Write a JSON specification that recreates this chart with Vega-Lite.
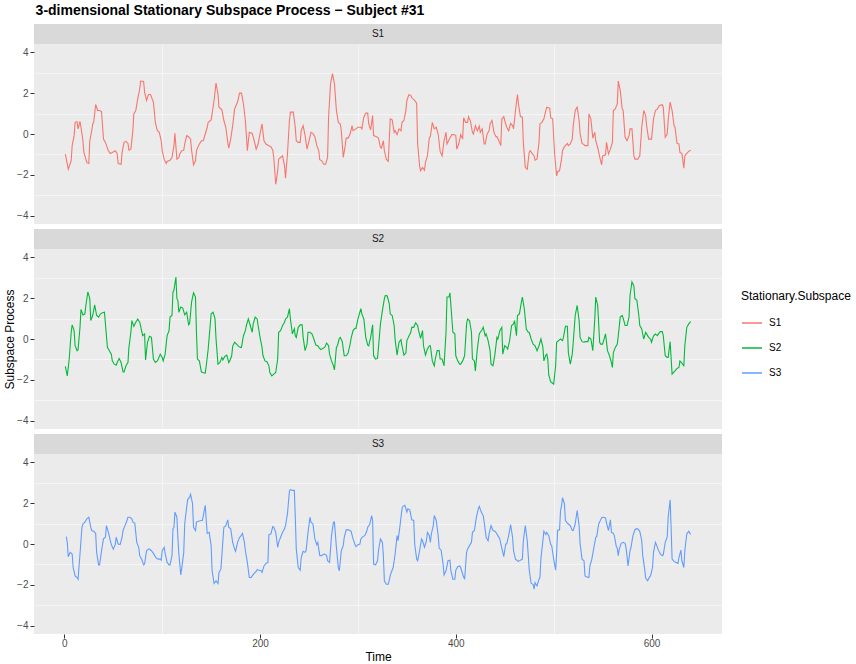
{
"$schema": "https://vega.github.io/schema/vega-lite/v6.json",
"padding": {"left": 3, "top": 4, "right": 0, "bottom": 0},
"title": {"text": "3-dimensional Stationary Subspace Process − Subject #31", "anchor": "start", "dx": 32, "fontSize": 14, "fontWeight": "bold", "color": "black", "offset": 6},
"config": {
 "font": "Liberation Sans",
 "view": {"stroke": null},
 "axis": {"labelColor": "#4D4D4D", "labelFontSize": 10, "tickColor": "#333333", "tickSize": 4, "domain": false, "gridColor": "white", "titleFontWeight": "normal", "titleFontSize": 12, "titleColor": "black", "labelPadding": 2},
 "legend": {"titleFontWeight": "normal", "titleFontSize": 12, "titleColor": "black", "labelFontSize": 10, "labelColor": "black"}
},
"datasets": {
 "strips": [{"s": "S1"}, {"s": "S2"}, {"s": "S3"}],
 "s1": [
{"t":1,"v":-0.98},{"t":4,"v":-1.72},{"t":7,"v":-1.3},{"t":8,"v":-0.57},{"t":10,"v":-0.08},{"t":11,"v":0.57},{"t":13,"v":0.6},{"t":14,"v":0.25},{"t":16,"v":0.62},{"t":17,"v":0.33},{"t":19,"v":-0.33},{"t":20,"v":-0.9},{"t":21,"v":-1.07},{"t":23,"v":-1.4},{"t":25,"v":-1.44},{"t":26,"v":-0.33},{"t":28,"v":0.16},{"t":29,"v":0.49},{"t":30,"v":0.57},{"t":32,"v":1.44},{"t":34,"v":1.15},{"t":36,"v":1.15},{"t":38,"v":1.1},{"t":40,"v":-0.25},{"t":42,"v":-0.41},{"t":44,"v":-0.69},{"t":45,"v":-0.82},{"t":47,"v":-0.95},{"t":49,"v":-0.9},{"t":52,"v":-0.82},{"t":54,"v":-0.95},{"t":55,"v":-1.44},{"t":58,"v":-1.48},{"t":59,"v":-0.9},{"t":61,"v":-0.41},{"t":63,"v":-0.36},{"t":65,"v":-0.46},{"t":66,"v":-0.79},{"t":68,"v":-0.74},{"t":70,"v":0.16},{"t":71,"v":0.98},{"t":73,"v":1.15},{"t":75,"v":1.72},{"t":77,"v":2.2},{"t":78,"v":2.59},{"t":81,"v":2.57},{"t":82,"v":2.05},{"t":84,"v":1.64},{"t":86,"v":1.93},{"t":88,"v":1.93},{"t":91,"v":1.56},{"t":93,"v":0.57},{"t":95,"v":0.16},{"t":97,"v":0.08},{"t":99,"v":-0.33},{"t":100,"v":-0.82},{"t":102,"v":-1.23},{"t":104,"v":-1.44},{"t":105,"v":-1.34},{"t":108,"v":-1.28},{"t":110,"v":-1.15},{"t":112,"v":-0.57},{"t":113,"v":0.03},{"t":115,"v":-1.23},{"t":117,"v":-1.15},{"t":118,"v":-0.98},{"t":120,"v":-0.82},{"t":122,"v":-0.79},{"t":123,"v":-0.49},{"t":125,"v":-0.08},{"t":127,"v":-0.13},{"t":129,"v":-0.25},{"t":130,"v":-0.79},{"t":132,"v":-1.51},{"t":134,"v":-1.31},{"t":135,"v":-0.82},{"t":137,"v":-0.57},{"t":140,"v":-0.33},{"t":142,"v":-0.33},{"t":144,"v":0},{"t":146,"v":0.33},{"t":147,"v":0.57},{"t":150,"v":0.69},{"t":151,"v":0.98},{"t":153,"v":1.64},{"t":155,"v":2.49},{"t":157,"v":1.97},{"t":158,"v":1.31},{"t":161,"v":1.18},{"t":163,"v":0.66},{"t":165,"v":0.33},{"t":167,"v":-0.41},{"t":168,"v":-0.69},{"t":170,"v":-0.25},{"t":172,"v":0.41},{"t":174,"v":1.23},{"t":175,"v":1.34},{"t":177,"v":1.56},{"t":179,"v":2.0},{"t":181,"v":2.0},{"t":183,"v":1.48},{"t":185,"v":0.66},{"t":187,"v":-0.82},{"t":189,"v":0.08},{"t":192,"v":0.03},{"t":194,"v":-0.33},{"t":196,"v":-0.74},{"t":198,"v":-0.49},{"t":200,"v":0.03},{"t":202,"v":0.49},{"t":204,"v":-0.33},{"t":206,"v":-0.49},{"t":209,"v":-0.57},{"t":211,"v":-0.62},{"t":213,"v":-0.79},{"t":214,"v":-1.15},{"t":216,"v":-2.46},{"t":218,"v":-1.8},{"t":219,"v":-1.23},{"t":221,"v":-1.15},{"t":223,"v":-1.07},{"t":225,"v":-1.56},{"t":226,"v":-2.16},{"t":228,"v":-0.98},{"t":230,"v":0.66},{"t":231,"v":1.07},{"t":234,"v":1.07},{"t":236,"v":0.3},{"t":237,"v":-0.33},{"t":239,"v":-0.41},{"t":241,"v":-0.41},{"t":242,"v":0.16},{"t":244,"v":0.41},{"t":246,"v":-0.08},{"t":248,"v":-0.74},{"t":250,"v":-0.33},{"t":252,"v":0.08},{"t":254,"v":0.03},{"t":256,"v":-0.13},{"t":258,"v":-0.57},{"t":260,"v":-0.82},{"t":261,"v":-1.26},{"t":263,"v":-1.31},{"t":265,"v":-1.48},{"t":267,"v":-1.48},{"t":269,"v":-1.15},{"t":270,"v":0.82},{"t":272,"v":2.46},{"t":274,"v":2.95},{"t":276,"v":2.46},{"t":277,"v":1.8},{"t":278,"v":1.15},{"t":280,"v":0.57},{"t":282,"v":0.49},{"t":283,"v":0.16},{"t":285,"v":-1.15},{"t":287,"v":-0.57},{"t":288,"v":-0.2},{"t":290,"v":-0.2},{"t":292,"v":0},{"t":294,"v":0.41},{"t":295,"v":0.16},{"t":298,"v":0.25},{"t":300,"v":0.33},{"t":303,"v":0.33},{"t":304,"v":0.25},{"t":306,"v":0.82},{"t":308,"v":1.02},{"t":310,"v":1.02},{"t":311,"v":0.49},{"t":313,"v":0.2},{"t":315,"v":0.9},{"t":316,"v":-0.08},{"t":319,"v":-0.13},{"t":321,"v":-0.2},{"t":323,"v":-0.66},{"t":324,"v":-0.69},{"t":326,"v":-0.33},{"t":327,"v":-0.82},{"t":329,"v":-1.23},{"t":331,"v":-1.34},{"t":333,"v":0.74},{"t":335,"v":0.69},{"t":337,"v":0.08},{"t":338,"v":0.16},{"t":340,"v":-0.03},{"t":342,"v":0.25},{"t":344,"v":0.16},{"t":345,"v":0.57},{"t":347,"v":0.66},{"t":349,"v":1.15},{"t":350,"v":1.64},{"t":352,"v":1.92},{"t":354,"v":1.89},{"t":355,"v":1.77},{"t":358,"v":1.64},{"t":360,"v":1.51},{"t":361,"v":-0.49},{"t":363,"v":-1.56},{"t":364,"v":-1.8},{"t":366,"v":-1.64},{"t":368,"v":-1.77},{"t":369,"v":-1.39},{"t":371,"v":-1.07},{"t":373,"v":-0.16},{"t":374,"v":-0.13},{"t":376,"v":0.57},{"t":378,"v":0.25},{"t":380,"v":0.33},{"t":382,"v":0},{"t":384,"v":-0.85},{"t":386,"v":-1.07},{"t":388,"v":-0.33},{"t":390,"v":0.08},{"t":391,"v":-0.49},{"t":394,"v":-0.2},{"t":396,"v":-0.03},{"t":398,"v":-0.03},{"t":400,"v":-0.08},{"t":401,"v":-0.74},{"t":403,"v":-0.49},{"t":405,"v":-0.03},{"t":407,"v":-0.25},{"t":408,"v":0.79},{"t":410,"v":0.57},{"t":412,"v":0.57},{"t":413,"v":0.85},{"t":415,"v":0.62},{"t":417,"v":0.08},{"t":418,"v":0},{"t":420,"v":0.41},{"t":422,"v":0.16},{"t":424,"v":0.39},{"t":425,"v":0.08},{"t":427,"v":0.25},{"t":429,"v":-0.49},{"t":430,"v":-0.49},{"t":432,"v":0},{"t":434,"v":0.16},{"t":435,"v":0.49},{"t":437,"v":0.66},{"t":439,"v":0.08},{"t":441,"v":-0.13},{"t":442,"v":-0.13},{"t":444,"v":-0.33},{"t":446,"v":-0.57},{"t":447,"v":0.74},{"t":449,"v":0.85},{"t":451,"v":0.49},{"t":452,"v":0.33},{"t":454,"v":0.16},{"t":456,"v":0.52},{"t":458,"v":0.41},{"t":459,"v":0.25},{"t":461,"v":1.15},{"t":463,"v":1.93},{"t":464,"v":1.48},{"t":466,"v":0.85},{"t":468,"v":0.82},{"t":469,"v":-0.41},{"t":471,"v":-1.64},{"t":473,"v":-1.72},{"t":475,"v":-0.9},{"t":476,"v":-0.82},{"t":478,"v":-0.95},{"t":480,"v":-1.07},{"t":481,"v":-1.28},{"t":483,"v":-1.23},{"t":485,"v":-0.41},{"t":486,"v":0.49},{"t":488,"v":0.57},{"t":490,"v":0.74},{"t":492,"v":1.15},{"t":493,"v":1.31},{"t":496,"v":1.26},{"t":497,"v":0.79},{"t":499,"v":0.74},{"t":501,"v":-0.98},{"t":503,"v":-2.05},{"t":504,"v":-1.84},{"t":506,"v":-1.8},{"t":508,"v":-1.23},{"t":509,"v":-0.82},{"t":511,"v":-0.62},{"t":514,"v":-0.46},{"t":515,"v":-0.57},{"t":517,"v":-0.49},{"t":519,"v":-0.25},{"t":520,"v":0.41},{"t":522,"v":1.15},{"t":524,"v":1.31},{"t":526,"v":0.66},{"t":527,"v":0.03},{"t":529,"v":-0.46},{"t":531,"v":-0.52},{"t":532,"v":-0.57},{"t":535,"v":-0.57},{"t":536,"v":0.98},{"t":538,"v":0.74},{"t":540,"v":-0.2},{"t":542,"v":0.08},{"t":543,"v":-0.33},{"t":545,"v":-0.66},{"t":547,"v":-1.11},{"t":549,"v":-1.51},{"t":550,"v":-1.07},{"t":553,"v":-1.02},{"t":554,"v":-0.41},{"t":556,"v":-0.98},{"t":558,"v":-0.74},{"t":560,"v":-0.41},{"t":561,"v":1.15},{"t":563,"v":1.23},{"t":565,"v":1.48},{"t":566,"v":2.59},{"t":568,"v":2.13},{"t":570,"v":1.23},{"t":571,"v":1.15},{"t":573,"v":-0.16},{"t":575,"v":-0.33},{"t":577,"v":-0.08},{"t":578,"v":0.25},{"t":580,"v":0.25},{"t":582,"v":-1.07},{"t":583,"v":-1.23},{"t":586,"v":-1.23},{"t":588,"v":-1.07},{"t":590,"v":0.33},{"t":592,"v":1.15},{"t":594,"v":0.9},{"t":595,"v":0.41},{"t":597,"v":-0.25},{"t":600,"v":-0.25},{"t":602,"v":0.74},{"t":604,"v":1.15},{"t":606,"v":1.23},{"t":608,"v":1.39},{"t":611,"v":1.43},{"t":612,"v":1.31},{"t":614,"v":-0.16},{"t":616,"v":0},{"t":617,"v":0.66},{"t":619,"v":1.56},{"t":621,"v":1.15},{"t":623,"v":0.41},{"t":624,"v":0.33},{"t":626,"v":-0.46},{"t":628,"v":-0.49},{"t":629,"v":-0.9},{"t":631,"v":-0.95},{"t":633,"v":-1.67},{"t":634,"v":-1.07},{"t":636,"v":-0.95},{"t":638,"v":-0.85},{"t":640,"v":-0.79}
 ],
 "s2": [
{"t":1,"v":-1.34},{"t":3,"v":-1.8},{"t":5,"v":-0.98},{"t":7,"v":0.33},{"t":8,"v":0.69},{"t":10,"v":0.41},{"t":11,"v":-0.33},{"t":13,"v":-0.57},{"t":14,"v":-0.52},{"t":16,"v":0.57},{"t":17,"v":1.44},{"t":19,"v":1.18},{"t":21,"v":1.23},{"t":22,"v":1.64},{"t":24,"v":2.3},{"t":26,"v":1.97},{"t":27,"v":0.9},{"t":29,"v":1.15},{"t":31,"v":1.67},{"t":33,"v":1.15},{"t":35,"v":1.07},{"t":37,"v":1.23},{"t":39,"v":1.28},{"t":41,"v":1.31},{"t":43,"v":0.16},{"t":44,"v":-0.41},{"t":46,"v":-0.57},{"t":48,"v":-0.74},{"t":49,"v":-1.07},{"t":51,"v":-1.23},{"t":53,"v":-1.28},{"t":54,"v":-1.15},{"t":56,"v":-0.95},{"t":58,"v":-1.15},{"t":60,"v":-1.61},{"t":61,"v":-1.61},{"t":63,"v":-1.31},{"t":65,"v":-1.15},{"t":66,"v":-0.41},{"t":68,"v":0.33},{"t":69,"v":0.9},{"t":71,"v":0.62},{"t":73,"v":0.82},{"t":75,"v":0.98},{"t":77,"v":0.82},{"t":78,"v":0.62},{"t":80,"v":0.16},{"t":82,"v":0.25},{"t":83,"v":-1.02},{"t":85,"v":-0.16},{"t":87,"v":0.13},{"t":89,"v":0.08},{"t":91,"v":-0.98},{"t":93,"v":-1.15},{"t":95,"v":-1.07},{"t":96,"v":-0.98},{"t":98,"v":-0.74},{"t":100,"v":-0.9},{"t":101,"v":-1.07},{"t":103,"v":-0.74},{"t":105,"v":0.16},{"t":107,"v":0.41},{"t":108,"v":1.07},{"t":110,"v":1.15},{"t":111,"v":2.3},{"t":112,"v":2.38},{"t":114,"v":3.03},{"t":115,"v":1.97},{"t":116,"v":1.89},{"t":117,"v":1.31},{"t":119,"v":1.56},{"t":121,"v":1.51},{"t":123,"v":1.18},{"t":125,"v":1.31},{"t":127,"v":0.69},{"t":128,"v":0.74},{"t":130,"v":1.8},{"t":132,"v":2.26},{"t":134,"v":2.05},{"t":135,"v":0.33},{"t":136,"v":-0.98},{"t":138,"v":-1.07},{"t":140,"v":-1.61},{"t":141,"v":-1.64},{"t":144,"v":-1.67},{"t":145,"v":-1.31},{"t":147,"v":-0.49},{"t":149,"v":0.66},{"t":150,"v":1.23},{"t":152,"v":1.31},{"t":154,"v":0.98},{"t":155,"v":0},{"t":157,"v":-1.23},{"t":159,"v":-1.15},{"t":161,"v":-0.9},{"t":162,"v":-1.02},{"t":164,"v":-0.85},{"t":166,"v":-0.79},{"t":168,"v":-1.15},{"t":169,"v":-1.07},{"t":171,"v":-0.82},{"t":172,"v":-0.36},{"t":174,"v":-0.16},{"t":176,"v":-0.25},{"t":178,"v":-0.36},{"t":180,"v":-0.41},{"t":181,"v":-0.41},{"t":183,"v":0.16},{"t":185,"v":0.41},{"t":186,"v":0.66},{"t":188,"v":0.98},{"t":190,"v":0.66},{"t":192,"v":0.33},{"t":193,"v":0.74},{"t":195,"v":1.07},{"t":197,"v":0.98},{"t":198,"v":0.66},{"t":200,"v":0.08},{"t":202,"v":-0.41},{"t":203,"v":-0.82},{"t":205,"v":-1.07},{"t":207,"v":-1.11},{"t":209,"v":-1.31},{"t":210,"v":-1.64},{"t":212,"v":-1.8},{"t":214,"v":-1.72},{"t":216,"v":-1.64},{"t":218,"v":-0.98},{"t":219,"v":0.33},{"t":221,"v":0.41},{"t":223,"v":0.66},{"t":225,"v":0.82},{"t":226,"v":0.98},{"t":228,"v":1.07},{"t":230,"v":1.48},{"t":231,"v":0.98},{"t":233,"v":0.25},{"t":235,"v":0.5},{"t":236,"v":0.16},{"t":237,"v":0.08},{"t":239,"v":0.57},{"t":241,"v":0.69},{"t":243,"v":0.69},{"t":244,"v":0.08},{"t":246,"v":-0.57},{"t":248,"v":-0.25},{"t":249,"v":0.33},{"t":251,"v":0.33},{"t":253,"v":0.25},{"t":255,"v":0},{"t":257,"v":-0.3},{"t":259,"v":-0.33},{"t":260,"v":-0.41},{"t":262,"v":-0.52},{"t":264,"v":-0.46},{"t":266,"v":-0.41},{"t":268,"v":-0.2},{"t":270,"v":-0.33},{"t":271,"v":-0.74},{"t":273,"v":-1.07},{"t":275,"v":-1.31},{"t":276,"v":-1.51},{"t":278,"v":-0.41},{"t":279,"v":-0.33},{"t":281,"v":0.03},{"t":282,"v":0.08},{"t":284,"v":-0.13},{"t":286,"v":-0.82},{"t":288,"v":-0.82},{"t":290,"v":-0.69},{"t":292,"v":-0.25},{"t":293,"v":0.03},{"t":295,"v":0.41},{"t":297,"v":0.52},{"t":298,"v":0.52},{"t":300,"v":0.98},{"t":303,"v":1.48},{"t":304,"v":1.23},{"t":306,"v":0.98},{"t":308,"v":0.08},{"t":310,"v":-0.3},{"t":311,"v":-0.33},{"t":313,"v":0.08},{"t":315,"v":0.69},{"t":316,"v":-0.82},{"t":318,"v":-0.98},{"t":320,"v":-0.95},{"t":321,"v":-0.41},{"t":323,"v":0.74},{"t":325,"v":1.39},{"t":327,"v":1.97},{"t":328,"v":2.13},{"t":330,"v":2.1},{"t":332,"v":1.72},{"t":333,"v":1.23},{"t":335,"v":1.15},{"t":337,"v":0.66},{"t":338,"v":-0.03},{"t":340,"v":-0.79},{"t":342,"v":-0.16},{"t":344,"v":-0.03},{"t":345,"v":-0.33},{"t":347,"v":-0.79},{"t":349,"v":-0.69},{"t":350,"v":-0.08},{"t":352,"v":0.13},{"t":354,"v":0.33},{"t":355,"v":0.57},{"t":357,"v":0.57},{"t":359,"v":0.79},{"t":361,"v":0.66},{"t":362,"v":0.41},{"t":364,"v":0.03},{"t":366,"v":0.41},{"t":367,"v":-0.33},{"t":369,"v":-0.79},{"t":371,"v":-0.49},{"t":373,"v":-0.33},{"t":374,"v":-0.33},{"t":376,"v":-1.07},{"t":378,"v":-1.31},{"t":379,"v":-0.98},{"t":381,"v":-0.57},{"t":383,"v":-0.57},{"t":384,"v":-0.98},{"t":386,"v":-0.98},{"t":388,"v":-1.31},{"t":390,"v":0.33},{"t":391,"v":2.05},{"t":393,"v":2.05},{"t":394,"v":2.26},{"t":395,"v":1.64},{"t":397,"v":0.33},{"t":399,"v":0.25},{"t":400,"v":-0.82},{"t":402,"v":-1.07},{"t":404,"v":-1.23},{"t":405,"v":-1.23},{"t":407,"v":-1.07},{"t":409,"v":-0.82},{"t":411,"v":0.74},{"t":412,"v":0.98},{"t":414,"v":0.9},{"t":416,"v":0.33},{"t":417,"v":-0.98},{"t":419,"v":-1.07},{"t":420,"v":-1.56},{"t":422,"v":-0.49},{"t":424,"v":0.25},{"t":425,"v":0.33},{"t":427,"v":0.46},{"t":428,"v":0.57},{"t":430,"v":0.16},{"t":431,"v":0.25},{"t":433,"v":-0.08},{"t":435,"v":-0.57},{"t":436,"v":-1.23},{"t":438,"v":-1.31},{"t":440,"v":-0.74},{"t":442,"v":0.08},{"t":443,"v":0},{"t":445,"v":0.41},{"t":447,"v":0.57},{"t":448,"v":-0.74},{"t":450,"v":-0.33},{"t":452,"v":-0.41},{"t":453,"v":-0.49},{"t":455,"v":-0.08},{"t":457,"v":0.66},{"t":459,"v":0.74},{"t":460,"v":0.9},{"t":462,"v":0.16},{"t":463,"v":1.15},{"t":465,"v":1.23},{"t":467,"v":1.8},{"t":468,"v":2.05},{"t":470,"v":1.48},{"t":472,"v":0.49},{"t":474,"v":0.33},{"t":475,"v":0.33},{"t":477,"v":0},{"t":479,"v":-0.25},{"t":481,"v":-0.33},{"t":483,"v":-0.57},{"t":485,"v":-0.33},{"t":486,"v":-0.16},{"t":487,"v":0},{"t":489,"v":-0.41},{"t":490,"v":-1.07},{"t":492,"v":-0.79},{"t":493,"v":-0.74},{"t":494,"v":-0.98},{"t":495,"v":-1.77},{"t":497,"v":-2.1},{"t":498,"v":-2.13},{"t":500,"v":-2.21},{"t":502,"v":-1.31},{"t":503,"v":-0.16},{"t":505,"v":-0.08},{"t":507,"v":0},{"t":509,"v":-0.08},{"t":510,"v":0.08},{"t":512,"v":0.62},{"t":514,"v":0.62},{"t":515,"v":-0.66},{"t":517,"v":-1.23},{"t":519,"v":-0.74},{"t":520,"v":-0.16},{"t":522,"v":1.15},{"t":524,"v":1.64},{"t":526,"v":0.9},{"t":527,"v":0.08},{"t":529,"v":-0.13},{"t":531,"v":-0.16},{"t":532,"v":-0.13},{"t":535,"v":-0.13},{"t":536,"v":0.08},{"t":538,"v":0},{"t":540,"v":-0.57},{"t":542,"v":0.98},{"t":543,"v":2.05},{"t":545,"v":1.64},{"t":547,"v":-0.16},{"t":548,"v":-0.25},{"t":550,"v":-0.25},{"t":552,"v":0.08},{"t":553,"v":0.25},{"t":555,"v":-0.57},{"t":557,"v":-0.82},{"t":559,"v":-1.15},{"t":560,"v":-1.39},{"t":561,"v":-0.66},{"t":563,"v":-0.41},{"t":565,"v":-0.25},{"t":566,"v":0.16},{"t":568,"v":1.07},{"t":570,"v":1.15},{"t":571,"v":1.02},{"t":573,"v":0.66},{"t":575,"v":0.66},{"t":577,"v":1.07},{"t":578,"v":2.13},{"t":580,"v":2.79},{"t":582,"v":2.59},{"t":583,"v":1.97},{"t":585,"v":1.89},{"t":587,"v":1.15},{"t":588,"v":0.66},{"t":590,"v":0.49},{"t":592,"v":0},{"t":594,"v":0.33},{"t":595,"v":0.25},{"t":597,"v":0.08},{"t":599,"v":0},{"t":600,"v":-0.16},{"t":602,"v":0.16},{"t":604,"v":0.25},{"t":606,"v":0.16},{"t":607,"v":0.25},{"t":609,"v":0.36},{"t":611,"v":0.36},{"t":612,"v":0.16},{"t":614,"v":-0.82},{"t":616,"v":-0.9},{"t":617,"v":-0.9},{"t":619,"v":-0.13},{"t":621,"v":-1.72},{"t":623,"v":-1.61},{"t":624,"v":-1.56},{"t":626,"v":-1.44},{"t":628,"v":-1.39},{"t":629,"v":-1.07},{"t":631,"v":-1.18},{"t":633,"v":-1.31},{"t":634,"v":-0.33},{"t":636,"v":0.57},{"t":638,"v":0.74},{"t":640,"v":0.85}
 ],
 "s3": [
{"t":2,"v":0.36},{"t":3,"v":0.08},{"t":4,"v":-0.62},{"t":6,"v":-0.41},{"t":8,"v":-0.49},{"t":9,"v":-1.15},{"t":11,"v":-1.56},{"t":13,"v":-1.64},{"t":14,"v":-1.72},{"t":16,"v":-0.49},{"t":18,"v":0.82},{"t":19,"v":0.98},{"t":21,"v":1.07},{"t":23,"v":1.23},{"t":25,"v":1.31},{"t":27,"v":0.82},{"t":28,"v":0.66},{"t":30,"v":0.62},{"t":32,"v":0.52},{"t":33,"v":-0.41},{"t":35,"v":-1.02},{"t":36,"v":-1.02},{"t":38,"v":-0.33},{"t":40,"v":0.25},{"t":42,"v":0.33},{"t":43,"v":0.9},{"t":45,"v":0.57},{"t":47,"v":0.16},{"t":48,"v":-0.03},{"t":50,"v":-0.25},{"t":52,"v":-0.03},{"t":53,"v":0.33},{"t":55,"v":0},{"t":57,"v":-0.03},{"t":59,"v":0.33},{"t":60,"v":0.66},{"t":62,"v":0.9},{"t":64,"v":1.15},{"t":65,"v":1.31},{"t":67,"v":1.31},{"t":69,"v":1.23},{"t":70,"v":1.07},{"t":72,"v":1.02},{"t":74,"v":0.08},{"t":76,"v":-0.16},{"t":77,"v":-0.57},{"t":79,"v":-0.74},{"t":81,"v":-1.02},{"t":82,"v":-0.98},{"t":84,"v":-0.33},{"t":86,"v":-0.25},{"t":87,"v":-0.25},{"t":89,"v":-0.33},{"t":91,"v":-0.46},{"t":93,"v":-0.62},{"t":94,"v":-0.69},{"t":96,"v":-0.74},{"t":98,"v":-0.74},{"t":99,"v":-0.79},{"t":100,"v":-0.33},{"t":102,"v":-0.16},{"t":103,"v":-0.46},{"t":105,"v":-0.9},{"t":107,"v":-1.02},{"t":108,"v":-1.02},{"t":110,"v":-0.57},{"t":111,"v":0.74},{"t":112,"v":0.82},{"t":113,"v":1.56},{"t":115,"v":1.31},{"t":116,"v":0.33},{"t":117,"v":-0.49},{"t":119,"v":-1.51},{"t":120,"v":-1.18},{"t":122,"v":-0.41},{"t":123,"v":0.98},{"t":125,"v":1.8},{"t":126,"v":2.16},{"t":128,"v":2.3},{"t":129,"v":2.43},{"t":131,"v":1.97},{"t":132,"v":0.82},{"t":134,"v":0.66},{"t":135,"v":1.07},{"t":137,"v":1.11},{"t":140,"v":1.15},{"t":141,"v":1.15},{"t":142,"v":1.39},{"t":144,"v":1.89},{"t":145,"v":1.15},{"t":146,"v":0.52},{"t":148,"v":0.57},{"t":150,"v":-0.08},{"t":151,"v":-1.31},{"t":153,"v":-1.93},{"t":155,"v":-1.8},{"t":157,"v":-1.93},{"t":158,"v":-1.39},{"t":160,"v":-1.23},{"t":162,"v":0.16},{"t":163,"v":0.82},{"t":165,"v":0.9},{"t":167,"v":1.18},{"t":168,"v":0.82},{"t":170,"v":0.74},{"t":172,"v":0.08},{"t":174,"v":-0.25},{"t":175,"v":-0.36},{"t":177,"v":0.08},{"t":179,"v":0.33},{"t":180,"v":0.36},{"t":182,"v":0.52},{"t":184,"v":0.08},{"t":185,"v":-0.33},{"t":187,"v":-0.9},{"t":189,"v":-1.64},{"t":191,"v":-1.64},{"t":192,"v":-1.56},{"t":194,"v":-1.44},{"t":196,"v":-1.34},{"t":197,"v":-1.25},{"t":199,"v":-1.28},{"t":201,"v":-1.31},{"t":202,"v":-1.39},{"t":204,"v":-1.07},{"t":206,"v":-0.95},{"t":208,"v":-0.9},{"t":209,"v":0.46},{"t":211,"v":0.49},{"t":213,"v":0.85},{"t":214,"v":0.82},{"t":216,"v":0.57},{"t":218,"v":-0.16},{"t":219,"v":0.08},{"t":221,"v":0.33},{"t":223,"v":0.57},{"t":225,"v":0.74},{"t":226,"v":0.9},{"t":228,"v":1.48},{"t":230,"v":2.59},{"t":231,"v":2.66},{"t":233,"v":2.62},{"t":235,"v":2.62},{"t":236,"v":1.31},{"t":237,"v":-0.25},{"t":239,"v":-1.15},{"t":241,"v":-1.28},{"t":242,"v":-0.66},{"t":244,"v":-0.36},{"t":246,"v":-0.41},{"t":247,"v":-0.33},{"t":249,"v":0.57},{"t":251,"v":1.31},{"t":252,"v":1.07},{"t":254,"v":0.98},{"t":256,"v":0.25},{"t":258,"v":-0.03},{"t":259,"v":0.08},{"t":261,"v":-0.57},{"t":263,"v":-0.57},{"t":264,"v":-0.52},{"t":266,"v":-0.49},{"t":268,"v":-0.57},{"t":269,"v":-0.82},{"t":271,"v":-0.9},{"t":273,"v":0.41},{"t":275,"v":1.07},{"t":276,"v":1.07},{"t":278,"v":-0.16},{"t":280,"v":-1.18},{"t":281,"v":-1.31},{"t":283,"v":-0.33},{"t":285,"v":-0.08},{"t":286,"v":0.33},{"t":288,"v":0.69},{"t":290,"v":0.69},{"t":292,"v":0.66},{"t":293,"v":0.62},{"t":295,"v":0.25},{"t":297,"v":-0.03},{"t":298,"v":-0.13},{"t":300,"v":-0.03},{"t":302,"v":0},{"t":303,"v":0.25},{"t":305,"v":0.36},{"t":307,"v":0.41},{"t":309,"v":0.62},{"t":310,"v":0.82},{"t":312,"v":0.95},{"t":314,"v":1.39},{"t":315,"v":1.15},{"t":316,"v":-0.98},{"t":318,"v":-1.02},{"t":320,"v":-0.82},{"t":321,"v":-0.33},{"t":323,"v":0.25},{"t":325,"v":0.08},{"t":326,"v":-0.57},{"t":327,"v":-1.8},{"t":329,"v":-1.97},{"t":331,"v":-1.97},{"t":333,"v":-1.56},{"t":334,"v":-1.39},{"t":336,"v":-1.15},{"t":338,"v":-0.49},{"t":340,"v":0.41},{"t":341,"v":0.16},{"t":343,"v":0.9},{"t":345,"v":1.72},{"t":346,"v":1.84},{"t":348,"v":1.89},{"t":350,"v":1.56},{"t":351,"v":1.72},{"t":353,"v":1.67},{"t":355,"v":1.18},{"t":357,"v":1.15},{"t":358,"v":0},{"t":360,"v":-0.74},{"t":361,"v":-0.82},{"t":363,"v":-0.33},{"t":365,"v":0.25},{"t":366,"v":0.16},{"t":368,"v":-0.16},{"t":370,"v":0.16},{"t":371,"v":0.57},{"t":373,"v":0.41},{"t":374,"v":0.08},{"t":375,"v":0.49},{"t":377,"v":0.9},{"t":378,"v":1.39},{"t":380,"v":1.15},{"t":382,"v":0.41},{"t":383,"v":-0.2},{"t":385,"v":-0.3},{"t":387,"v":-0.98},{"t":388,"v":-1.51},{"t":390,"v":-1.31},{"t":392,"v":-0.82},{"t":394,"v":-0.79},{"t":395,"v":-1.31},{"t":397,"v":-1.72},{"t":399,"v":-1.72},{"t":400,"v":-1.28},{"t":402,"v":-1.11},{"t":404,"v":-1.07},{"t":405,"v":-1.15},{"t":407,"v":-1.48},{"t":409,"v":-1.72},{"t":411,"v":-0.41},{"t":412,"v":-0.25},{"t":414,"v":-0.08},{"t":416,"v":0.08},{"t":417,"v":0.57},{"t":419,"v":0.66},{"t":421,"v":1.31},{"t":423,"v":1.72},{"t":424,"v":1.84},{"t":426,"v":1.56},{"t":428,"v":1.39},{"t":429,"v":1.07},{"t":431,"v":0.33},{"t":433,"v":0.16},{"t":434,"v":0.49},{"t":436,"v":0.9},{"t":438,"v":0.66},{"t":440,"v":0.62},{"t":441,"v":0.57},{"t":443,"v":0.41},{"t":445,"v":0.25},{"t":446,"v":0},{"t":448,"v":-0.41},{"t":449,"v":-0.62},{"t":451,"v":0},{"t":452,"v":0},{"t":454,"v":0.41},{"t":456,"v":0.95},{"t":458,"v":0.33},{"t":459,"v":-0.33},{"t":461,"v":-0.74},{"t":463,"v":-0.82},{"t":464,"v":-0.85},{"t":466,"v":-0.79},{"t":468,"v":-0.74},{"t":469,"v":0.16},{"t":471,"v":0.9},{"t":473,"v":0.16},{"t":475,"v":-1.25},{"t":476,"v":-1.6},{"t":477,"v":-1.93},{"t":479,"v":-1.97},{"t":480,"v":-2.21},{"t":481,"v":-1.89},{"t":483,"v":-2.05},{"t":485,"v":-1.72},{"t":486,"v":-1.64},{"t":487,"v":-0.69},{"t":489,"v":0.16},{"t":490,"v":0.62},{"t":492,"v":0.46},{"t":493,"v":0.57},{"t":495,"v":0.41},{"t":497,"v":-0.03},{"t":498,"v":-0.08},{"t":500,"v":-0.74},{"t":502,"v":-1.28},{"t":503,"v":-0.49},{"t":504,"v":0.66},{"t":506,"v":0.69},{"t":507,"v":1.64},{"t":508,"v":1.84},{"t":509,"v":2.26},{"t":511,"v":1.97},{"t":512,"v":1.15},{"t":514,"v":1.02},{"t":515,"v":0.98},{"t":517,"v":0.9},{"t":519,"v":0.66},{"t":520,"v":0.66},{"t":522,"v":0.98},{"t":524,"v":1.64},{"t":526,"v":0.9},{"t":527,"v":0.03},{"t":529,"v":-0.74},{"t":531,"v":-0.82},{"t":532,"v":-1.56},{"t":534,"v":-1.61},{"t":536,"v":-1.64},{"t":537,"v":-1.07},{"t":539,"v":-0.74},{"t":541,"v":-0.2},{"t":543,"v":0.33},{"t":544,"v":0.36},{"t":546,"v":0.98},{"t":548,"v":1.18},{"t":549,"v":1.28},{"t":551,"v":1.31},{"t":553,"v":1.28},{"t":554,"v":1.02},{"t":556,"v":0.66},{"t":558,"v":1.18},{"t":559,"v":0.57},{"t":561,"v":0.52},{"t":562,"v":0.41},{"t":564,"v":-0.13},{"t":565,"v":-0.2},{"t":566,"v":-0.57},{"t":567,"v":-0.25},{"t":569,"v":0.03},{"t":571,"v":0.08},{"t":573,"v":0.03},{"t":574,"v":-0.2},{"t":576,"v":-1.07},{"t":578,"v":-0.33},{"t":579,"v":-0.16},{"t":581,"v":0.41},{"t":583,"v":0.69},{"t":584,"v":0.74},{"t":586,"v":0.74},{"t":588,"v":0.62},{"t":590,"v":0.16},{"t":591,"v":-0.57},{"t":593,"v":-1.23},{"t":594,"v":-1.67},{"t":596,"v":-1.8},{"t":598,"v":-1.61},{"t":599,"v":-1.56},{"t":601,"v":-1.15},{"t":602,"v":-0.41},{"t":604,"v":0.08},{"t":605,"v":-0.03},{"t":607,"v":-0.3},{"t":609,"v":-0.49},{"t":611,"v":-0.57},{"t":612,"v":-0.52},{"t":614,"v":0.08},{"t":616,"v":0.33},{"t":617,"v":1.31},{"t":619,"v":2.16},{"t":620,"v":0.82},{"t":621,"v":-0.74},{"t":623,"v":-0.85},{"t":625,"v":-0.9},{"t":627,"v":-0.95},{"t":628,"v":-0.66},{"t":630,"v":-0.3},{"t":631,"v":-0.82},{"t":633,"v":-1.15},{"t":634,"v":-0.33},{"t":636,"v":0.49},{"t":638,"v":0.62},{"t":640,"v":0.46}
 ]
},
"spacing": 5,
"vconcat": [
 {"spacing": 0, "vconcat": [
  {"data": {"name": "strips"}, "transform": [{"filter": "datum.s === 'S1'"}], "width": 688, "height": 20, "view": {"fill": "#D9D9D9", "stroke": null},
   "mark": {"type": "text", "fontSize": 10, "color": "#1A1A1A", "baseline": "middle", "align": "center"}, "encoding": {"text": {"field": "s"}}},
  {"data": {"name": "s1"}, "width": 688, "height": 180, "view": {"fill": "#EBEBEB", "stroke": null},
   "layer": [
    {"mark": {"type": "line", "strokeOpacity": 0}, "encoding": {
      "x": {"field": "t", "type": "quantitative", "scale": {"domain": [-31, 672], "nice": false, "zero": false}, "axis": {"orient": "top", "values": [100, 300, 500], "gridWidth": 0.5, "labels": false, "ticks": false, "title": null}},
      "y": {"field": "v", "type": "quantitative", "scale": {"domain": [-4.4, 4.4], "nice": false, "zero": false}, "axis": {"orient": "right", "values": [-3, -1, 1, 3], "gridWidth": 0.5, "labels": false, "ticks": false, "title": null}}}},
    {"mark": {"type": "line", "strokeWidth": 1.1}, "encoding": {
      "x": {"field": "t", "type": "quantitative", "scale": {"domain": [-31, 672], "nice": false, "zero": false}, "axis": {"values": [0, 200, 400, 600], "gridWidth": 1.1, "labels": false, "ticks": false, "title": null}},
      "y": {"field": "v", "type": "quantitative", "scale": {"domain": [-4.4, 4.4], "nice": false, "zero": false}, "axis": {"values": [-4, -2, 0, 2, 4], "gridWidth": 1.1, "title": null}},
      "color": {"datum": "S1", "type": "nominal", "scale": {"domain": ["S1", "S2", "S3"], "range": ["#F8766D", "#00BA38", "#619CFF"]}, "legend": {"title": "Stationary.Subspace", "orient": "none", "legendX": 707, "legendY": 267, "symbolType": "stroke", "symbolSize": 400, "symbolStrokeWidth": 1.5, "rowPadding": 9, "titlePadding": 9, "labelOffset": 6}}}}
   ],
   "resolve": {"axis": {"x": "independent", "y": "independent"}}}
 ]},
 {"spacing": 0, "vconcat": [
  {"data": {"name": "strips"}, "transform": [{"filter": "datum.s === 'S2'"}], "width": 688, "height": 20, "view": {"fill": "#D9D9D9", "stroke": null},
   "mark": {"type": "text", "fontSize": 10, "color": "#1A1A1A", "baseline": "middle", "align": "center"}, "encoding": {"text": {"field": "s"}}},
  {"data": {"name": "s2"}, "width": 688, "height": 180, "view": {"fill": "#EBEBEB", "stroke": null},
   "layer": [
    {"mark": {"type": "line", "strokeOpacity": 0}, "encoding": {
      "x": {"field": "t", "type": "quantitative", "scale": {"domain": [-31, 672], "nice": false, "zero": false}, "axis": {"orient": "top", "values": [100, 300, 500], "gridWidth": 0.5, "labels": false, "ticks": false, "title": null}},
      "y": {"field": "v", "type": "quantitative", "scale": {"domain": [-4.4, 4.4], "nice": false, "zero": false}, "axis": {"orient": "right", "values": [-3, -1, 1, 3], "gridWidth": 0.5, "labels": false, "ticks": false, "title": null}}}},
    {"mark": {"type": "line", "strokeWidth": 1.1}, "encoding": {
      "x": {"field": "t", "type": "quantitative", "scale": {"domain": [-31, 672], "nice": false, "zero": false}, "axis": {"values": [0, 200, 400, 600], "gridWidth": 1.1, "labels": false, "ticks": false, "title": null}},
      "y": {"field": "v", "type": "quantitative", "scale": {"domain": [-4.4, 4.4], "nice": false, "zero": false}, "axis": {"values": [-4, -2, 0, 2, 4], "gridWidth": 1.1, "title": "Subspace Process", "titlePadding": 0}},
      "color": {"datum": "S2", "type": "nominal", "scale": {"domain": ["S1", "S2", "S3"], "range": ["#F8766D", "#00BA38", "#619CFF"]}}}}
   ],
   "resolve": {"axis": {"x": "independent", "y": "independent"}}}
 ]},
 {"spacing": 0, "vconcat": [
  {"data": {"name": "strips"}, "transform": [{"filter": "datum.s === 'S3'"}], "width": 688, "height": 20, "view": {"fill": "#D9D9D9", "stroke": null},
   "mark": {"type": "text", "fontSize": 10, "color": "#1A1A1A", "baseline": "middle", "align": "center"}, "encoding": {"text": {"field": "s"}}},
  {"data": {"name": "s3"}, "width": 688, "height": 180, "view": {"fill": "#EBEBEB", "stroke": null},
   "layer": [
    {"mark": {"type": "line", "strokeOpacity": 0}, "encoding": {
      "x": {"field": "t", "type": "quantitative", "scale": {"domain": [-31, 672], "nice": false, "zero": false}, "axis": {"orient": "top", "values": [100, 300, 500], "gridWidth": 0.5, "labels": false, "ticks": false, "title": null}},
      "y": {"field": "v", "type": "quantitative", "scale": {"domain": [-4.4, 4.4], "nice": false, "zero": false}, "axis": {"orient": "right", "values": [-3, -1, 1, 3], "gridWidth": 0.5, "labels": false, "ticks": false, "title": null}}}},
    {"mark": {"type": "line", "strokeWidth": 1.1}, "encoding": {
      "x": {"field": "t", "type": "quantitative", "scale": {"domain": [-31, 672], "nice": false, "zero": false}, "axis": {"values": [0, 200, 400, 600], "gridWidth": 1.1, "title": "Time", "titlePadding": 3, "labelPadding": 0}},
      "y": {"field": "v", "type": "quantitative", "scale": {"domain": [-4.4, 4.4], "nice": false, "zero": false}, "axis": {"values": [-4, -2, 0, 2, 4], "gridWidth": 1.1, "title": null}},
      "color": {"datum": "S3", "type": "nominal", "scale": {"domain": ["S1", "S2", "S3"], "range": ["#F8766D", "#00BA38", "#619CFF"]}}}}
   ],
   "resolve": {"axis": {"x": "independent", "y": "independent"}}}
 ]}
]
}
